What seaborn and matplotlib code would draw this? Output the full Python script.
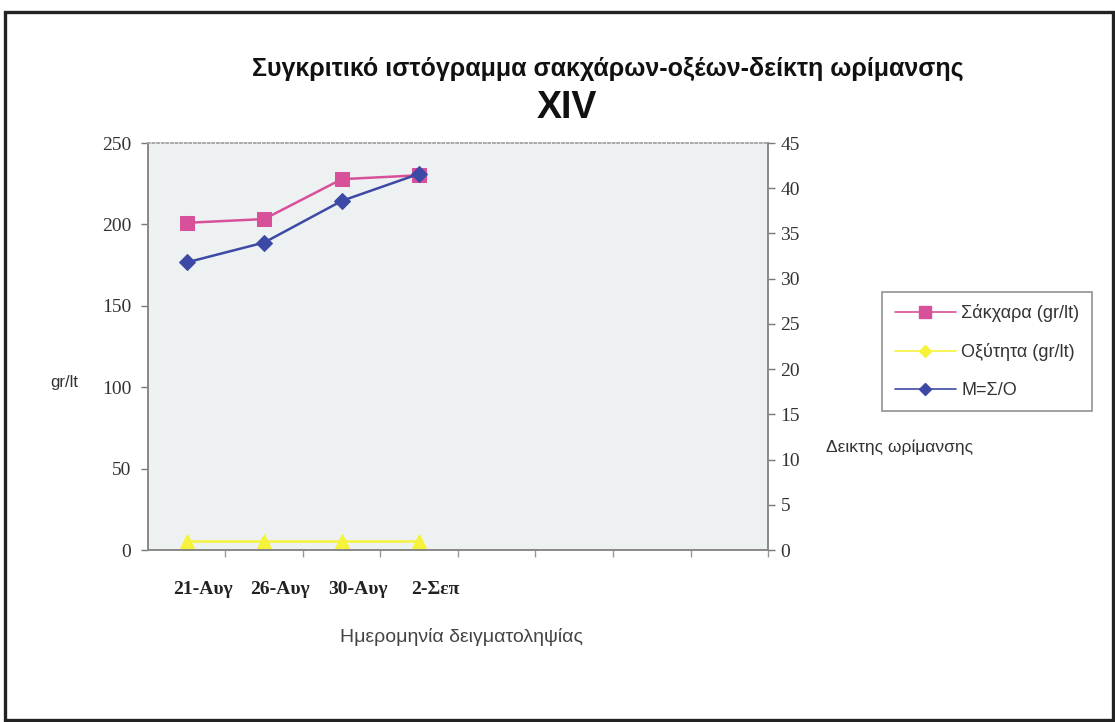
import matplotlib
matplotlib.use("Agg")
import matplotlib.pyplot as plt
from matplotlib.lines import Line2D
from matplotlib.patches import Rectangle
from matplotlib.ticker import FixedLocator, NullFormatter
from matplotlib.transforms import ScaledTranslation
import pandas as pd
import seaborn as sns

# Sampling dates (8 category slots on the axis, 4 used)
dates = ["21-Αυγ", "26-Αυγ", "30-Αυγ", "2-Σεπ"]
n_slots = 8

# Measurements
sugars = [201, 203.3, 227.8, 230.2]      # gr/lt
acidity = [5.4, 5.4, 5.4, 5.4]           # gr/lt
ripeness = [31.8, 34.0, 38.6, 41.6]      # M = Σ/Ο

sugar_label = "Σάκχαρα (gr/lt)"
acid_label = "Οξύτητα (gr/lt)"
ripe_label = "M=Σ/O"

sns.set_theme(style="white")
plt.rcParams["font.family"] = ["Liberation Sans", "DejaVu Sans"]

pink = "#d8509a"
yellow = "#f6f33a"
blue = "#3c4aa6"

df = pd.DataFrame({"date": dates, "pos": range(len(dates)),
                   "sugars": sugars, "acidity": acidity, "ripeness": ripeness})

fig = plt.figure(figsize=(11.15, 7.22), dpi=100)
ax = fig.add_axes([0.1327, 0.2382, 0.5561, 0.5637])
ax.set_facecolor("#eef1f1")

sns.lineplot(data=df, x="pos", y="sugars", ax=ax, color=pink, marker="s",
             markersize=10, markeredgecolor=pink, linewidth=1.8, zorder=3)
sns.lineplot(data=df, x="pos", y="acidity", ax=ax, color=yellow, marker="^",
             markersize=10, markeredgecolor=yellow, linewidth=1.8, zorder=3)

ax2 = ax.twinx()
sns.lineplot(data=df, x="pos", y="ripeness", ax=ax2, color=blue, marker="D",
             markersize=8, markeredgecolor=blue, linewidth=1.8, zorder=3)

ax.set_xlim(-0.5, n_slots - 0.5)
ax.set_ylim(0, 250)
ax2.set_ylim(0, 45)
ax.set_yticks(range(0, 251, 50))
ax2.set_yticks(range(0, 46, 5))

ax.xaxis.set_major_locator(FixedLocator(list(range(len(dates)))))
ax.set_xticklabels(dates)
ax.xaxis.set_minor_locator(FixedLocator([k + 0.5 for k in range(n_slots)]))
ax.xaxis.set_minor_formatter(NullFormatter())
ax.tick_params(axis="x", which="major", length=0, pad=22,
               labelsize=14, labelcolor="#222222")
ax.tick_params(axis="x", which="minor", bottom=True, length=5, width=1,
               color="#999999", direction="out")
shift = ScaledTranslation(16 / 100, 0, fig.dpi_scale_trans)
for lbl in ax.get_xticklabels():
    lbl.set_fontfamily(["Liberation Serif", "DejaVu Serif"])
    lbl.set_fontweight("bold")
    lbl.set_transform(lbl.get_transform() + shift)

ax.tick_params(axis="y", left=True, length=5, width=1, color="#777777",
               labelsize=14, labelcolor="#333333", pad=7)
ax2.tick_params(axis="y", right=True, length=5, width=1, color="#777777",
                labelsize=14, labelcolor="#333333", pad=4)
for lbl in ax.get_yticklabels() + ax2.get_yticklabels():
    lbl.set_fontfamily(["Liberation Serif", "DejaVu Serif"])

for a in (ax, ax2):
    a.set_xlabel("")
    a.set_ylabel("")
    a.grid(False)
    for side in ("left", "right", "bottom"):
        a.spines[side].set_color("#888888")
        a.spines[side].set_linewidth(1.2)
    a.spines["top"].set_color("#aaaaaa")
    a.spines["top"].set_linestyle(":")

fig.text(0.545, 0.905, "Συγκριτικό ιστόγραμμα σακχάρων-οξέων-δείκτη ωρίμανσης",
         ha="center", va="center", fontsize=18, fontweight="bold", color="#111111")
fig.text(0.508, 0.851, "XIV", ha="center", va="center", fontsize=27,
         fontweight="bold", color="#111111")
fig.text(0.4143, 0.118, "Ημερομηνία δειγματοληψίας", ha="center", va="center",
         fontsize=14, color="#444444")
fig.text(0.058, 0.47, "gr/lt", ha="center", va="center", fontsize=12,
         color="#333333")
fig.text(0.807, 0.381, "Δεικτης ωρίμανσης", ha="center", va="center",
         fontsize=12.5, color="#333333")

handles = [
    Line2D([], [], color=pink, marker="s", markersize=9, linewidth=1.2),
    Line2D([], [], color=yellow, marker="D", markersize=6, linewidth=1.2),
    Line2D([], [], color=blue, marker="D", markersize=6, linewidth=1.2),
]
leg = fig.legend(handles, [sugar_label, acid_label, ripe_label],
                 loc="upper left", bbox_to_anchor=(0.791, 0.596),
                 borderaxespad=0, frameon=True, fancybox=False, fontsize=13,
                 handlelength=3.4, labelspacing=1.15, borderpad=0.7,
                 handletextpad=0.3)
leg.get_frame().set_edgecolor("#777777")
leg.get_frame().set_linewidth(1.2)
for t in leg.get_texts():
    t.set_color("#333333")

fig.add_artist(Rectangle((0.0045, 0.003), 0.9935, 0.9797,
                         transform=fig.transFigure, fill=False,
                         edgecolor="#222222", linewidth=2.4))

fig.savefig("out.png", dpi=100, facecolor="white")
